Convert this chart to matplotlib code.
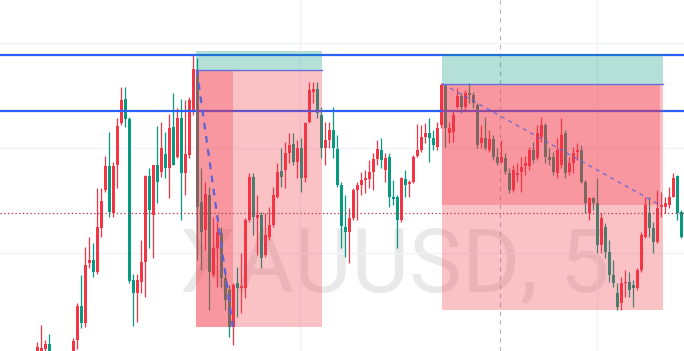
import matplotlib
matplotlib.use("Agg")
import matplotlib.pyplot as plt
from matplotlib.patches import Rectangle
import numpy as np

# --- OHLC (arbitrary price units, one candle per bar) ---
opens = [-5, -2, 2, 7, -1, -14, -21, -12, -24, -5, 11, 45, 28, 88, 91, 79, 123, 161, 185, 138,
         186, 228, 252, 232, 71, 58, 69, 89, 175, 136, 186, 179, 197, 183, 224, 194, 233, 178, 196, 239,
         281, 149, 121, 156, 76, 103, 118, 73, 61, 24, 68, 63, 63, 131, 174, 133, 136, 96, 114, 126,
         154, 180, 181, 198, 207, 189, 203, 173, 229, 259, 262, 236, 203, 211, 221, 202, 166, 124, 119, 133,
         161, 166, 171, 172, 179, 192, 201, 181, 194, 154, 154, 131, 172, 167, 169, 195, 201, 214, 218, 213,
         204, 226, 265, 218, 219, 244, 255, 244, 258, 256, 246, 208, 213, 201, 212, 194, 189, 193, 178, 161,
         176, 179, 185, 185, 201, 193, 214, 226, 194, 194, 178, 186, 218, 179, 188, 199, 201, 169, 138, 153,
         148, 106, 124, 99, 76, 58, 48, 68, 69, 66, 63, 81, 114, 138, 123, 109, 144, 144, 146, 154,
         175, 139, 116]
highs = [9, 26, 11, 17, -2, -11, -9, -8, -5, 13, 48, 76, 104, 114, 108, 163, 163, 195, 219, 189,
         233, 264, 264, 234, 77, 77, 111, 176, 183, 186, 225, 229, 219, 237, 258, 243, 252, 251, 254, 296,
         293, 183, 169, 164, 134, 129, 124, 81, 66, 68, 84, 98, 133, 178, 178, 156, 139, 138, 144, 164,
         188, 203, 209, 218, 218, 211, 213, 229, 269, 269, 269, 244, 229, 229, 244, 216, 169, 156, 143, 163,
         169, 179, 181, 191, 198, 211, 213, 198, 198, 171, 156, 174, 181, 171, 196, 227, 226, 228, 233, 221,
         229, 268, 267, 229, 241, 263, 258, 261, 268, 259, 248, 226, 234, 221, 216, 203, 211, 198, 183, 186,
         188, 194, 195, 204, 209, 226, 234, 228, 203, 199, 213, 233, 221, 194, 204, 208, 206, 171, 154, 154,
         173, 138, 128, 111, 91, 68, 74, 81, 79, 71, 83, 119, 154, 154, 129, 161, 159, 154, 164, 178,
         176, 141, 136]
lows = [-9, -7, -1, -5, -17, -24, -23, -27, -26, -9, 2, 23, 24, 83, 74, 77, 114, 159, 134, 134,
        163, 226, 224, 68, 25, 29, 58, 54, 103, 93, 148, 174, 173, 153, 186, 193, 131, 156, 193, 236,
        91, 81, 101, 41, 74, 64, 64, 41, 14, 6, 34, 38, 53, 129, 116, 96, 83, 94, 111, 124,
        153, 164, 163, 188, 186, 173, 159, 169, 228, 248, 233, 193, 186, 203, 193, 164, 103, 94, 88, 131,
        131, 156, 158, 163, 161, 186, 183, 169, 144, 146, 103, 129, 154, 154, 168, 194, 199, 208, 189, 201,
        201, 223, 204, 208, 209, 243, 238, 241, 248, 243, 203, 203, 201, 199, 191, 186, 188, 177, 158, 159,
        169, 159, 176, 181, 188, 191, 209, 188, 186, 176, 173, 183, 173, 176, 178, 191, 168, 138, 131, 141,
        98, 98, 93, 69, 64, 41, 41, 54, 54, 44, 61, 79, 113, 114, 98, 108, 134, 138, 143, 154,
        131, 113, 111]
closes = [4, 3, 7, -1, -14, -21, -12, -24, -8, 10, 45, 28, 86, 91, 79, 124, 150, 185, 139, 185,
          225, 251, 232, 70, 58, 71, 89, 175, 141, 186, 169, 203, 183, 223, 186, 233, 178, 197, 251, 282,
          144, 119, 157, 79, 103, 119, 73, 51, 24, 66, 63, 65, 131, 174, 134, 136, 93, 116, 126, 156,
          179, 174, 198, 206, 189, 203, 173, 228, 261, 262, 238, 203, 211, 221, 203, 166, 125, 119, 133, 161,
          166, 171, 173, 179, 192, 202, 191, 193, 154, 152, 131, 173, 166, 169, 194, 201, 214, 218, 213, 206,
          223, 266, 223, 223, 236, 255, 244, 258, 256, 248, 206, 213, 203, 212, 194, 188, 194, 179, 161, 181,
          178, 184, 188, 201, 191, 218, 226, 194, 191, 179, 201, 216, 178, 188, 198, 201, 169, 148, 153, 148,
          106, 133, 99, 76, 68, 44, 68, 69, 61, 63, 81, 116, 146, 123, 109, 143, 146, 148, 154, 173,
          138, 114, 133]

# --- drawing tools on the chart ---
levels = [296, 240]            # horizontal rays
last_price = 138               # dotted price line
# long positions: start bar, end bar, entry, target, stop, exit bar, exit price
pos1 = dict(start=39.7, end=71.2, entry=281, target=300, stop=24, exit_bar=48.9, exit_price=24)
pos2 = dict(start=101.2, end=156.4, entry=267, target=297, stop=41, exit_bar=155.7, exit_price=146)
watermark = "XAUUSD, 5"

UP = "#F23645"
DOWN = "#089981"

fig = plt.figure(figsize=(6.84, 3.51), dpi=100)
ax = fig.add_axes([0, 0, 1, 1])
ax.set_xlim(-9.3, 161.7)
ax.set_ylim(0, 351)
ax.axis("off")

# grid
for gy in [308, 203, 98]:
    ax.axhline(gy, color="#f0f3fa", lw=1, zorder=0.5)
for gx in [65.7, 139.9]:
    ax.axvline(gx, color="#f0f3fa", lw=1, zorder=0.5)
ax.axvline(115.7, color="#b2b5be", lw=0.8, ls=(0, (4, 4)), zorder=0.6)

# watermark
ax.text(35.7, 59, watermark, fontsize=64, family="Roboto",
        color="#4a4a4a", alpha=0.12, ha="left", va="baseline", zorder=0.4)

# candles
idx = np.arange(len(opens))
o = np.array(opens); h = np.array(highs); l = np.array(lows); c = np.array(closes)
colors = np.where(c >= o, UP, DOWN)
ax.vlines(idx, l, h, colors=colors, lw=0.9, zorder=2)
body_h = np.maximum(np.abs(c - o), 1.0)
ax.bar(idx, body_h, bottom=np.minimum(o, c), width=0.72, color=colors, linewidth=0, zorder=2.1)

# horizontal rays
for lv in levels:
    ax.axhline(lv, color="#2962FF", lw=1.6, zorder=2.5)

# long position boxes
for p, dash_lw, dash_alpha in [(pos1, 1.6, 1.0), (pos2, 1.0, 0.8)]:
    w = p["end"] - p["start"]
    ax.add_patch(Rectangle((p["start"], p["entry"]), w, p["target"] - p["entry"],
                           color=DOWN, alpha=0.3, lw=0, zorder=3))
    ax.add_patch(Rectangle((p["start"], p["stop"]), w, p["entry"] - p["stop"],
                           color=UP, alpha=0.3, lw=0, zorder=3))
    ax.add_patch(Rectangle((p["start"], p["exit_price"]), p["exit_bar"] - p["start"],
                           p["entry"] - p["exit_price"], color=UP, alpha=0.3, lw=0, zorder=3))
    ax.plot([p["start"], p["end"]], [p["entry"], p["entry"]], color="#6a6fd8", lw=1.0, zorder=4)
    ax.plot([p["start"] + 0.2, p["exit_bar"]], [p["entry"], p["exit_price"]],
            color="#5b63d6", lw=dash_lw, ls=(0, (3, 3)), alpha=dash_alpha, zorder=4)

# last price line
ax.axhline(last_price, color="#b8303c", lw=0.9, ls=(0, (1, 2)), zorder=4)

fig.savefig("out.png", dpi=100)
